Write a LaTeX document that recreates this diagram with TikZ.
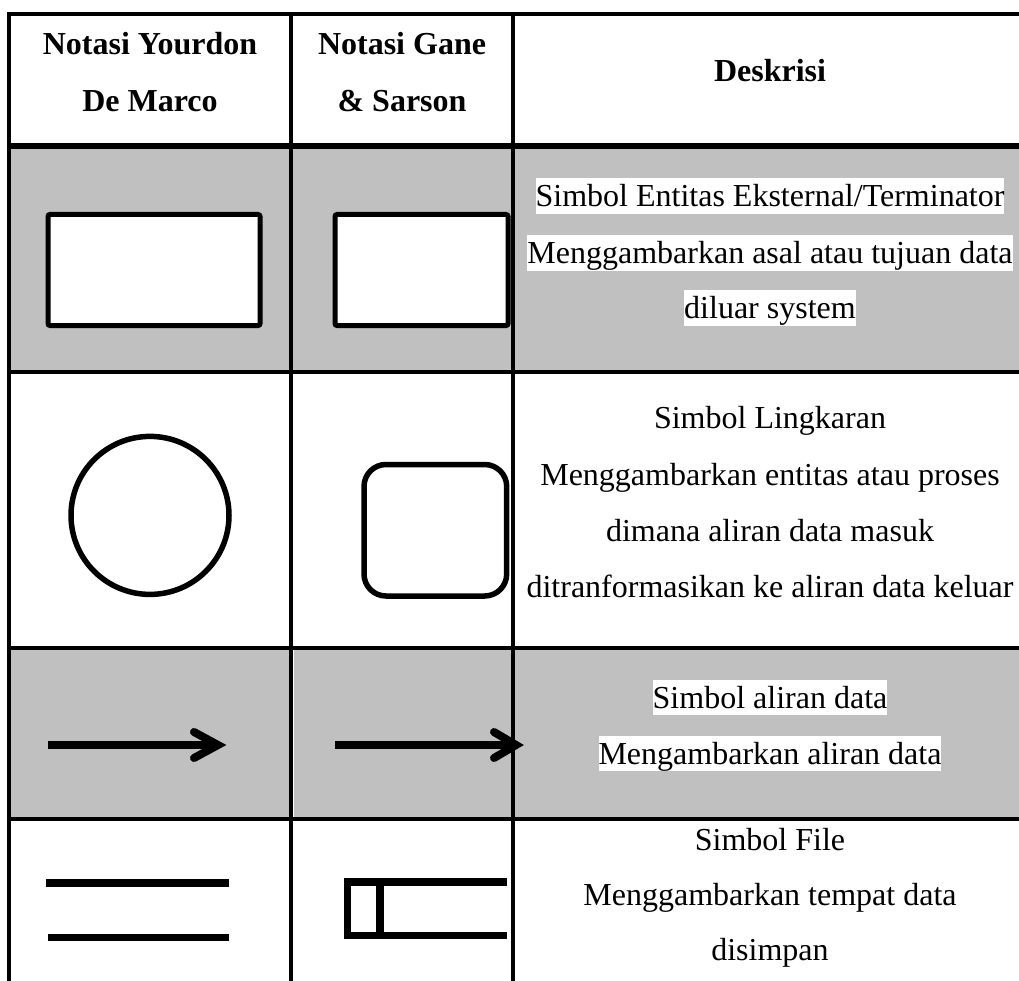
\documentclass[tikz,border=0pt]{standalone}
\usepackage{fontspec}
\setmainfont{Liberation Serif}
\definecolor{cellgray}{RGB}{192,192,192}
\begin{document}
\begin{tikzpicture}[x=1pt,y=-1pt,
  gridline/.style={line width=3.5pt,black},
  txt/.style={font=\fontsize{32}{38}\selectfont,anchor=base,inner sep=0pt},
  hl/.style={txt,fill=white,text height=28.5pt,text depth=7pt},
  hdr/.style={txt,font=\fontsize{32}{38}\selectfont\bfseries},
  symb/.style={line width=5pt,draw=black,fill=white},
  flow/.style={line width=8pt,black},
  store/.style={line width=7.5pt,black}]
\useasboundingbox (0,0) rectangle (1019,981);
% row shading
\fill[cellgray] (9,146) rectangle (1019,372);
\fill[cellgray] (9,648) rectangle (1019,819);
\draw[white,line width=1pt] (293.8,650) -- (293.8,817);
% grid
\draw[gridline,line join=miter] (9,981) -- (9,14) -- (1019,14);
\draw[line width=6pt] (9,146) -- (1019,146);
\draw[gridline] (9,372) -- (1019,372);
\draw[gridline] (9,648) -- (1019,648);
\draw[gridline] (9,819) -- (1019,819);
\draw[gridline] (291,14) -- (291,981);
\draw[gridline] (513,14) -- (513,981);
% header
\node[hdr] (h1a) at (150,55) {Notasi Yourdon};
\node[hdr] (h1b) at (150,112) {De Marco};
\node[hdr] (h2a) at (402,55) {Notasi Gane};
\node[hdr] (h2b) at (402,112) {\& Sarson};
\node[hdr] (h3) at (770,82) {Deskrisi};
% row 1 symbols
\draw[symb,rounded corners=2pt] (48,214.5) rectangle (260,325.5);
\draw[symb,rounded corners=2pt] (335,214.5) rectangle (508,325.5);
\node[hl] (r1a) at (770,207) {Simbol Entitas Eksternal/Terminator};
\node[hl] (r1b) at (770,264) {Menggambarkan asal atau tujuan data};
\node[hl] (r1c) at (770,319) {diluar system};
% row 2 symbols
\draw[symb,line width=5.5pt] (150,515.4) circle (79);
\draw[symb,line width=5.5pt,rounded corners=22pt] (364,464.5) rectangle (506.7,596);
\node[txt] (r2a) at (770,428) {Simbol Lingkaran};
\node[txt] (r2b) at (770,485) {Menggambarkan entitas atau proses};
\node[txt] (r2c) at (770,541) {dimana aliran data masuk};
\node[txt] (r2d) at (770,597) {ditranformasikan ke aliran data keluar};
% row 3 symbols (data flow arrows)
\draw[flow] (48,745) -- (216,745);
\draw[flow,line cap=round,line join=miter] (194,732) -- (218,745) -- (194,758);
\draw[flow] (335,745) -- (514,745);
\draw[flow,line cap=round,line join=miter] (494,732) -- (516,745) -- (494,758);
\node[hl] (r3a) at (770,708) {Simbol aliran data};
\node[hl] (r3b) at (770,764) {Mengambarkan aliran data};
% row 4 symbols (data store)
\draw[store] (46,883) -- (229,883);
\draw[store] (48,937.5) -- (229,937.5);
\draw[store,line join=miter] (507,882) -- (347.5,882) -- (347.5,935.5) -- (507,935.5);
\draw[store] (380,882) -- (380,935.5);
\node[txt] (r4a) at (770,850) {Simbol File};
\node[txt] (r4b) at (770,905) {Menggambarkan tempat data};
\node[txt] (r4c) at (770,960) {disimpan};
\end{tikzpicture}
\end{document}
